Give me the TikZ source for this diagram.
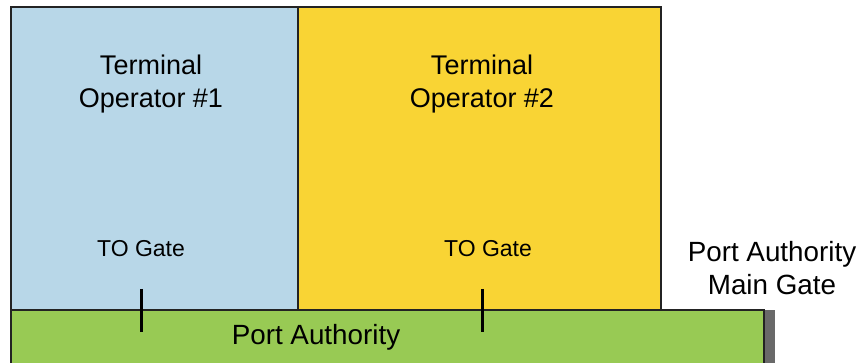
\documentclass[tikz,border=0pt]{standalone}
\usepackage{fontspec}
\setmainfont{Liberation Sans}
\definecolor{toblue}{RGB}{184,215,232}
\definecolor{toyellow}{RGB}{249,212,52}
\definecolor{pagreen}{RGB}{152,202,84}
\definecolor{gatebar}{RGB}{105,105,105}
\definecolor{edge}{RGB}{35,35,35}
\tikzset{
  area/.style={draw=edge, line width=1.4pt},
  bigtext/.style={font=\fontsize{27}{33}\selectfont, align=center, inner sep=0pt},
  gatetext/.style={font=\fontsize{23}{28}\selectfont, inner sep=0pt, anchor=base},
  patext/.style={font=\fontsize{27.8}{33}\selectfont, align=center, inner sep=0pt},
  tick/.style={draw=black, line width=3pt}
}
\begin{document}
\begin{tikzpicture}[x=1pt, y=-1pt]
\useasboundingbox (0,0) rectangle (862,363);
\begin{scope}
\clip (0,0) rectangle (862,363);
% areas
\fill[gatebar] (764,310) rectangle (775,375);
\draw[area, fill=pagreen] (11,310) rectangle (764,375);
\draw[area, fill=toblue] (11,7) rectangle (298,310);
\draw[area, fill=toyellow] (298,7) rectangle (661,310);
\end{scope}
% labels
\node[bigtext] (to1) at (151,84) {Terminal\\Operator \#1};
\node[bigtext] (to2) at (482,84) {Terminal\\Operator \#2};
\node[gatetext] (g1) at (141,257) {TO Gate};
\node[gatetext] (g2) at (488,257) {TO Gate};
\node[patext] (pa) at (316,337) {Port Authority};
\node[patext] (pamain) at (772,268) {Port Authority\\Main Gate};
% gate ticks
\coordinate (t1a) at (141,289);
\coordinate (t1b) at (141,332);
\coordinate (t2a) at (482,289);
\coordinate (t2b) at (482,332);
\draw[tick] (t1a) -- (t1b);
\draw[tick] (t2a) -- (t2b);
\end{tikzpicture}
\end{document}
